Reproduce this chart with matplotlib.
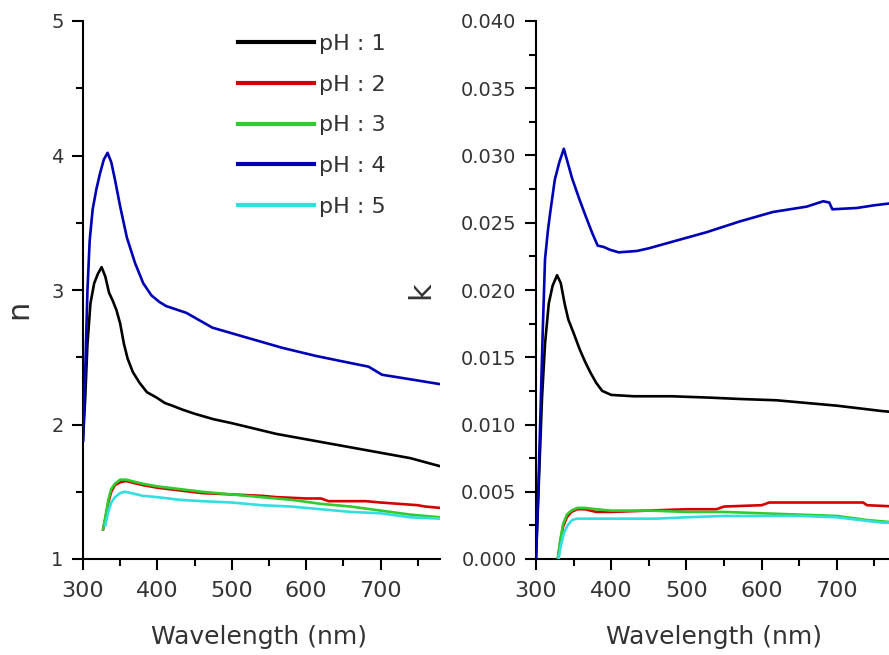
import matplotlib

matplotlib.use("Agg")
import matplotlib.pyplot as plt
from matplotlib.ticker import FormatStrFormatter, MultipleLocator

# refractive index n
wl_n_ph1 = [300, 303, 306, 310, 315, 320, 325, 330, 335, 340, 345, 350, 355, 360, 367, 376,
            386, 399, 410, 420, 434, 450, 475, 500, 530, 560, 590, 620, 650, 680, 710, 740, 760, 780]
n_ph1 = [1.88, 2.20, 2.60, 2.90, 3.05, 3.12, 3.17, 3.10, 2.98, 2.92, 2.85, 2.75, 2.60, 2.49, 2.39, 2.31,
         2.24, 2.20, 2.16, 2.14, 2.11, 2.08, 2.04, 2.01, 1.97, 1.93, 1.90, 1.87, 1.84, 1.81, 1.78, 1.75, 1.72, 1.69]

wl_n_ph4 = [300, 303, 306, 309, 313, 318, 323, 328, 333, 338, 343, 350, 359, 370, 381, 392, 403, 412,
            439, 474, 524, 568, 613, 657, 684, 702, 747, 780]
n_ph4 = [1.88, 2.40, 3.00, 3.37, 3.60, 3.75, 3.87, 3.97, 4.02, 3.95, 3.82, 3.62, 3.39, 3.20, 3.05, 2.96, 2.91, 2.88,
         2.83, 2.72, 2.64, 2.57, 2.51, 2.46, 2.43, 2.37, 2.33, 2.30]

wl_n_ph2 = [327, 330, 334, 338, 343, 350, 358, 365, 380, 400, 430, 460, 500, 540, 560, 600, 620, 630,
            680, 700, 750, 760, 780]
n_ph2 = [1.22, 1.30, 1.42, 1.50, 1.55, 1.57, 1.58, 1.57, 1.55, 1.53, 1.51, 1.49, 1.48, 1.47, 1.46, 1.45, 1.45, 1.43,
         1.43, 1.42, 1.40, 1.39, 1.38]

wl_n_ph3 = [327, 330, 334, 338, 343, 350, 358, 365, 380, 400, 430, 460, 500, 540, 580, 620, 660, 700, 740, 780]
n_ph3 = [1.22, 1.31, 1.44, 1.52, 1.56, 1.59, 1.59, 1.58, 1.56, 1.54, 1.52, 1.50, 1.48, 1.46, 1.44, 1.41, 1.39,
         1.36, 1.33, 1.31]

wl_n_ph5 = [330, 334, 338, 343, 350, 356, 365, 380, 400, 430, 460, 500, 540, 580, 620, 660, 700, 740, 780]
n_ph5 = [1.25, 1.35, 1.42, 1.46, 1.49, 1.50, 1.49, 1.47, 1.46, 1.44, 1.43, 1.42, 1.40, 1.39, 1.37, 1.35, 1.34,
         1.31, 1.30]

# extinction coefficient k
wl_k_ph1 = [300, 304, 308, 312, 317, 322, 328, 333, 338, 343, 350, 358, 365, 372, 380, 388, 400, 430,
            480, 530, 570, 620, 660, 700, 730, 760, 780]
k_ph1 = [0.0, 0.006, 0.012, 0.016, 0.019, 0.0203, 0.0211, 0.0205, 0.019, 0.0178, 0.0168, 0.0156, 0.0147,
         0.0139, 0.0131, 0.0125, 0.0122, 0.0121, 0.0121, 0.0120, 0.0119, 0.0118, 0.0116, 0.0114, 0.0112,
         0.0110, 0.0109]

wl_k_ph4 = [300, 303, 306, 309, 312, 316, 319, 325, 331, 337, 342, 348, 358, 366, 375, 382, 390, 398,
            410, 434, 450, 482, 527, 571, 615, 660, 682, 690, 694, 727, 750, 780]
k_ph4 = [0.0, 0.005, 0.011, 0.017, 0.0223, 0.0245, 0.0258, 0.0282, 0.0295, 0.0305, 0.0295, 0.0283, 0.0267,
         0.0255, 0.0242, 0.0233, 0.0232, 0.0230, 0.0228, 0.0229, 0.0231, 0.0236, 0.0243, 0.0251, 0.0258,
         0.0262, 0.0266, 0.0265, 0.0260, 0.0261, 0.0263, 0.0265]

wl_k_ph2 = [329, 332, 336, 341, 347, 355, 365, 380, 400, 450, 500, 540, 550, 600, 610, 650, 700, 735,
            740, 780]
k_ph2 = [0.0, 0.0012, 0.0024, 0.0031, 0.0035, 0.0037, 0.0037, 0.0035, 0.0035, 0.0036, 0.0037, 0.0037,
         0.0039, 0.0040, 0.0042, 0.0042, 0.0042, 0.0042, 0.0040, 0.0039]

wl_k_ph3 = [329, 332, 336, 341, 347, 355, 365, 380, 400, 450, 500, 550, 600, 650, 700, 740, 780]
k_ph3 = [0.0, 0.0013, 0.0026, 0.0033, 0.0036, 0.0038, 0.0038, 0.0037, 0.0036, 0.0036, 0.0035, 0.0035,
         0.0034, 0.0033, 0.0032, 0.0029, 0.0027]

wl_k_ph5 = [330, 333, 337, 342, 348, 355, 380, 420, 460, 500, 550, 600, 650, 700, 730, 760, 780]
k_ph5 = [0.0, 0.0010, 0.0019, 0.0025, 0.0029, 0.0030, 0.0030, 0.0030, 0.0030, 0.0031, 0.0032, 0.0032,
         0.0032, 0.0031, 0.0029, 0.0027, 0.0027]

labels = ["pH : 1", "pH : 2", "pH : 3", "pH : 4", "pH : 5"]
colors = ["#000000", "#d40000", "#2ecc2e", "#0000b4", "#33dede"]

TEXT = "#333333"
FIG_W, FIG_H = 889, 655


def px_axes(left, top, right, bottom):
    return [left / FIG_W, 1 - bottom / FIG_H, (right - left) / FIG_W, (bottom - top) / FIG_H]


def style_axes(ax):
    for side in ("top", "right"):
        ax.spines[side].set_visible(False)
    for side in ("left", "bottom"):
        ax.spines[side].set_linewidth(1.5)
    ax.xaxis.set_major_locator(MultipleLocator(100))
    ax.xaxis.set_minor_locator(MultipleLocator(50))
    ax.tick_params(which="both", direction="out", width=1.5, colors="black")
    ax.tick_params(which="major", length=8)
    ax.tick_params(which="minor", length=5)
    ax.tick_params(axis="x", which="major", pad=8, labelsize=16, labelcolor=TEXT)
    ax.tick_params(axis="y", which="major", pad=6, labelsize=14, labelcolor=TEXT)
    ax.set_xlim(300, 780)
    ax.set_xlabel("Wavelength (nm)", fontsize=18, color=TEXT, va="center")
    ax.xaxis.set_label_coords(0.494, -0.145)


fig = plt.figure(figsize=(FIG_W / 100, FIG_H / 100), dpi=100)
ax_n = fig.add_axes(px_axes(83, 21, 440, 559))
ax_k = fig.add_axes(px_axes(536, 21, 897, 559))

n_series = [(wl_n_ph1, n_ph1), (wl_n_ph2, n_ph2), (wl_n_ph3, n_ph3), (wl_n_ph4, n_ph4), (wl_n_ph5, n_ph5)]
k_series = [(wl_k_ph1, k_ph1), (wl_k_ph2, k_ph2), (wl_k_ph3, k_ph3), (wl_k_ph4, k_ph4), (wl_k_ph5, k_ph5)]

# draw order so black / blue sit on top like the original
order = [4, 1, 2, 0, 3]
for i in order:
    ax_n.plot(*n_series[i], color=colors[i], lw=1.9, label=labels[i], zorder=3 + i)
    ax_k.plot(*k_series[i], color=colors[i], lw=1.9, zorder=3 + i)

style_axes(ax_n)
ax_n.set_ylim(1, 5)
ax_n.yaxis.set_major_locator(MultipleLocator(1))
ax_n.yaxis.set_minor_locator(MultipleLocator(0.5))
ax_n.set_ylabel("n", fontsize=22, color=TEXT, va="center", ha="center")
ax_n.yaxis.set_label_coords(-0.18, 0.465)

style_axes(ax_k)
ax_k.set_ylim(0, 0.040)
ax_k.yaxis.set_major_locator(MultipleLocator(0.005))
ax_k.yaxis.set_minor_locator(MultipleLocator(0.0025))
ax_k.yaxis.set_major_formatter(FormatStrFormatter("%.3f"))
ax_k.set_ylabel("k", fontsize=22, color=TEXT, va="center", ha="center")
ax_k.yaxis.set_label_coords(-0.319, 0.50)

handles, hlabels = ax_n.get_legend_handles_labels()
by_label = dict(zip(hlabels, handles))
leg = ax_n.legend(
    [by_label[l] for l in labels],
    labels,
    loc="upper left",
    bbox_to_anchor=(238 / FIG_W, 1 - 34 / FIG_H),
    bbox_transform=fig.transFigure,
    frameon=False,
    fontsize=16,
    handlelength=3.4,
    handletextpad=0.25,
    labelspacing=0.93,
    borderpad=0,
    borderaxespad=0,
)
for line in leg.get_lines():
    line.set_linewidth(3)
for txt in leg.get_texts():
    txt.set_color(TEXT)

fig.savefig("out.png", dpi=100)
